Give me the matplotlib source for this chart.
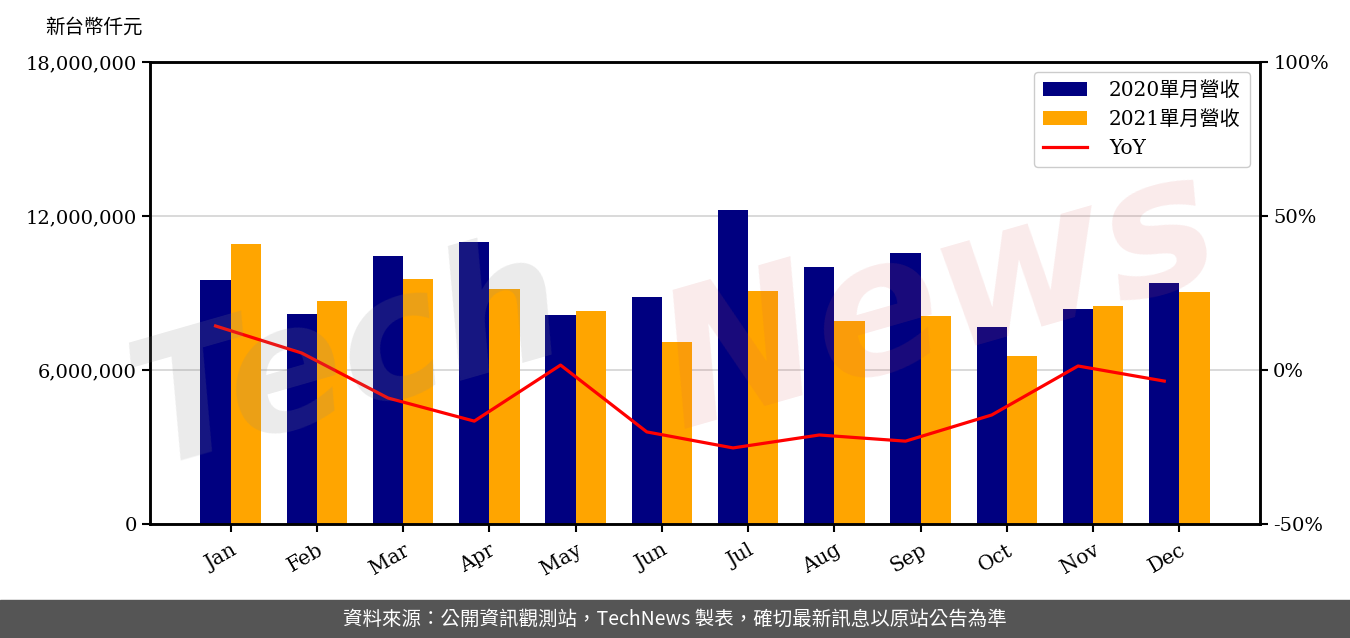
import matplotlib
matplotlib.use("Agg")
import matplotlib.pyplot as plt
import numpy as np
from matplotlib.ticker import FuncFormatter

# ── data ─────────────────────────────────────────────────────────────────────
months = ["Jan", "Feb", "Mar", "Apr", "May", "Jun",
          "Jul", "Aug", "Sep", "Oct", "Nov", "Dec"]
rev_2020 = [9506000, 8180000, 10440000, 10990000, 8140000, 8840000,
            12230000, 10010000, 10560000, 7680000, 8380000, 9390000]
rev_2021 = [10910000, 8690000, 9550000, 9160000, 8300000, 7090000,
            9080000, 7910000, 8100000, 6550000, 8490000, 9040000]
yoy_pct = [14.3, 5.5, -9.1, -16.6, 1.6, -20.1,
           -25.3, -21.1, -23.1, -14.6, 1.3, -3.6]

plt.rcParams["font.family"] = ["DejaVu Serif", "Noto Sans CJK TC"]

fig = plt.figure(figsize=(13.5, 6.38), dpi=100)
ax = fig.add_axes([150 / 1350, 1 - 524 / 638, 1110 / 1350, 462 / 638])

x = np.arange(len(months))
w = 0.35
ax.bar(x - w, rev_2020, width=w, align="edge", color="#000080",
       label="2020單月營收", zorder=2)
ax.bar(x, rev_2021, width=w, align="edge", color="#FFA500",
       label="2021單月營收", zorder=2)

ax.set_ylim(0, 18000000)
ax.set_yticks([0, 6000000, 12000000, 18000000])
ax.yaxis.set_major_formatter(FuncFormatter(lambda v, p: f"{int(v):,}"))
ax.set_xticks(x)
ax.set_xticklabels(months, rotation=30, ha="right", rotation_mode="anchor")
ax.grid(axis="y", color="#d3d3d3", linewidth=1.2, zorder=0)
ax.set_axisbelow(True)

ax2 = ax.twinx()
ax2.plot(x - w / 2, yoy_pct, color="red", linewidth=2.3, label="YoY", zorder=3)
ax2.set_ylim(-50, 100)
ax2.set_yticks([-50, 0, 50, 100])
ax2.yaxis.set_major_formatter(FuncFormatter(lambda v, p: f"{int(v)}%"))

for a in (ax, ax2):
    a.tick_params(labelsize=14, width=1.5, length=6)
    for s in a.spines.values():
        s.set_linewidth(1.8)
ax.tick_params(axis="x", labelsize=14.5, pad=6)

h1, l1 = ax.get_legend_handles_labels()
h2, l2 = ax2.get_legend_handles_labels()
leg = ax2.legend(h1 + h2, l1 + l2, loc="upper right", fontsize=14.5,
                 framealpha=1, edgecolor="#cccccc", borderpad=0.45,
                 handlelength=2.2, handletextpad=1.1, labelspacing=0.5)

fig.text(45 / 1350, 1 - 27 / 638, "新台幣仟元", fontsize=14, va="center")

# watermark (faint, drawn over the plot)
fig.text(0.085, 0.27, "Tech", fontsize=125, fontstyle="italic", fontweight="bold",
         family="DejaVu Sans", color="#888888", alpha=0.17, rotation=16, zorder=5)
fig.text(0.475, 0.33, "News", fontsize=135, fontstyle="italic", fontweight="bold",
         family="DejaVu Sans", color="#d95959", alpha=0.12, rotation=16, zorder=5)

# footer band
fig.patches.append(plt.Rectangle((0, 0), 1, 38 / 638, transform=fig.transFigure,
                                 color="#555555", zorder=0))
fig.text(0.5, 19 / 638, "資料來源：公開資訊觀測站，TechNews 製表，確切最新訊息以原站公告為準",
         family=["Noto Sans CJK TC"], color="white", fontsize=14,
         ha="center", va="center")

fig.savefig("out.png", dpi=100)
